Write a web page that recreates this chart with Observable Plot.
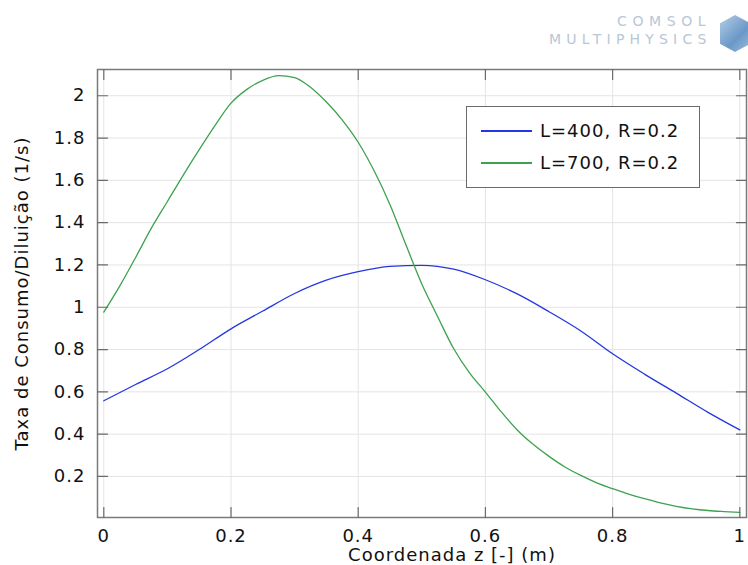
<!DOCTYPE html>
<html>
<head>
<meta charset="utf-8">
<script src="https://cdn.jsdelivr.net/npm/d3@7"></script>
<script src="https://cdn.jsdelivr.net/npm/@observablehq/plot@0.6"></script>
<style>
  body { margin: 0; background: #fff; }
  #wrap { position: relative; width: 748px; height: 565px; overflow: hidden; font-family: "DejaVu Sans", sans-serif; background: #fff; }
  #wrap svg text { letter-spacing: 1px; }
  .legend { position: absolute; left: 466px; top: 106px; width: 234px; height: 82px; box-sizing: border-box; border: 1.5px solid #6a6a6a; background: #fff; }
  .legend .sw { position: absolute; left: 14px; width: 51px; height: 2px; }
  .legend .lb { position: absolute; left: 73px; font-size: 18px; letter-spacing: 1px; color: #111; line-height: 20px; }
  .logo1 { position: absolute; left: 617px; top: 13px; font-size: 14px; letter-spacing: 5.6px; color: #b7c7d6; }
  .logo2 { position: absolute; left: 549px; top: 31px; font-size: 14px; letter-spacing: 5.2px; color: #b7c7d6; }
  .cube { position: absolute; left: 720px; top: 15px; width: 30px; height: 37px; background: linear-gradient(135deg, #a9c6e0, #4f86bd 60%, #8cb2d6); clip-path: polygon(50% 0, 100% 22%, 100% 78%, 50% 100%, 0 78%, 0 22%); opacity: 0.85; }
</style>
</head>
<body>
<div id="wrap"></div>
<script>
// ---- data ----
const zL400 = [0, 0.05, 0.1, 0.15, 0.2, 0.25, 0.3, 0.35, 0.4, 0.45, 0.5, 0.55, 0.6, 0.65, 0.7, 0.75, 0.8, 0.85, 0.9, 0.95, 1.0];
const rateL400 = [0.558, 0.635, 0.709, 0.800, 0.898, 0.982, 1.065, 1.128, 1.168, 1.193, 1.198, 1.180, 1.130, 1.063, 0.979, 0.888, 0.780, 0.684, 0.594, 0.503, 0.420];

const zL700 = [0, 0.025, 0.05, 0.075, 0.1, 0.125, 0.15, 0.175, 0.2, 0.225, 0.25, 0.275, 0.3, 0.325, 0.35, 0.375, 0.4, 0.425, 0.45, 0.475, 0.5, 0.525, 0.55, 0.575, 0.6, 0.625, 0.65, 0.675, 0.7, 0.725, 0.75, 0.775, 0.8, 0.825, 0.85, 0.875, 0.9, 0.925, 0.95, 0.975, 1.0];
const rateL700 = [0.977, 1.100, 1.235, 1.375, 1.500, 1.625, 1.745, 1.860, 1.965, 2.030, 2.073, 2.095, 2.086, 2.040, 1.970, 1.885, 1.780, 1.645, 1.485, 1.295, 1.110, 0.955, 0.805, 0.690, 0.599, 0.505, 0.420, 0.352, 0.295, 0.245, 0.205, 0.170, 0.142, 0.117, 0.095, 0.075, 0.059, 0.047, 0.039, 0.034, 0.030];

const seriesNames = ["L=400, R=0.2", "L=700, R=0.2"];
const xTicks = [0, 0.2, 0.4, 0.6, 0.8, 1];
const xTickLabels = ["0", "0.2", "0.4", "0.6", "0.8", "1"];
const yTicks = [0.2, 0.4, 0.6, 0.8, 1, 1.2, 1.4, 1.6, 1.8, 2];
const yTickLabels = ["0.2", "0.4", "0.6", "0.8", "1", "1.2", "1.4", "1.6", "1.8", "2"];
const xLabel = "Coordenada z [-] (m)";
const yLabel = "Taxa de Consumo/Diluição (1/s)";
const logoTop = "COMSOL";
const logoBottom = "MULTIPHYSICS";

// ---- build ----
const colors = ["#2437e0", "#3da24f"];
const rows = [
  ...zL400.map((z, i) => ({z, v: rateL400[i], s: seriesNames[0]})),
  ...zL700.map((z, i) => ({z, v: rateL700[i], s: seriesNames[1]}))
];
const tickShape = {draw(ctx, l) { ctx.moveTo(0, 0); ctx.lineTo(0, -l); }};
const tickStyle = {length: 10, anchor: "start", shape: tickShape, stroke: "#6a6a6a", strokeWidth: 1.2};

const chart = Plot.plot({
  width: 748, height: 565,
  marginLeft: 97, marginRight: 2, marginTop: 69, marginBottom: 48,
  style: {fontFamily: "DejaVu Sans, sans-serif", fontSize: "18px", background: "transparent", color: "#111"},
  x: {domain: [-0.0099, 1.0105]},
  y: {domain: [0.006, 2.124]},
  color: {domain: seriesNames, range: colors},
  marks: [
    Plot.gridX(xTicks, {stroke: "#e4e4e4", strokeOpacity: 1, strokeWidth: 1}),
    Plot.gridY(yTicks, {stroke: "#e4e4e4", strokeOpacity: 1, strokeWidth: 1}),
    Plot.line(rows, {x: "z", y: "v", z: "s", stroke: "s", strokeWidth: 1.3, curve: "monotone-x"}),
    Plot.frame({stroke: "#7a7a7a", strokeWidth: 1.5}),
    Plot.vector(xTicks, {x: d => d, frameAnchor: "bottom", rotate: 0, ...tickStyle}),
    Plot.vector(xTicks, {x: d => d, frameAnchor: "top", rotate: 180, ...tickStyle}),
    Plot.vector(yTicks, {y: d => d, frameAnchor: "left", rotate: 90, ...tickStyle}),
    Plot.vector(yTicks, {y: d => d, frameAnchor: "right", rotate: -90, ...tickStyle}),
    Plot.axisX({ticks: xTicks, tickSize: 0, tickPadding: 12, fontSize: 18, label: null,
      tickFormat: d => xTickLabels[xTicks.indexOf(d)]}),
    Plot.axisY({ticks: yTicks, tickSize: 0, tickPadding: 12, fontSize: 18, label: null,
      tickFormat: d => yTickLabels[yTicks.indexOf(d)]}),
    Plot.text([xLabel], {text: d => d, frameAnchor: "bottom", textAnchor: "middle", lineAnchor: "middle", dx: 30, dy: 38, fontSize: 18, fill: "#111"}),
    Plot.text([yLabel], {text: d => d, frameAnchor: "left", textAnchor: "middle", lineAnchor: "middle", rotate: -90, dx: -75, fontSize: 18, fill: "#111"})
  ]
});

const wrap = document.getElementById("wrap");
wrap.appendChild(chart);

// legend
const legend = document.createElement("div");
legend.className = "legend";
seriesNames.forEach((name, i) => {
  const sw = document.createElement("div");
  sw.className = "sw";
  sw.style.top = (i === 0 ? 23 : 55) + "px";
  sw.style.background = colors[i];
  const lb = document.createElement("div");
  lb.className = "lb";
  lb.style.top = (i === 0 ? 14 : 46) + "px";
  lb.textContent = name;
  legend.appendChild(sw);
  legend.appendChild(lb);
});
wrap.appendChild(legend);

// logo
const l1 = document.createElement("div"); l1.className = "logo1"; l1.textContent = logoTop; wrap.appendChild(l1);
const l2 = document.createElement("div"); l2.className = "logo2"; l2.textContent = logoBottom; wrap.appendChild(l2);
const cube = document.createElement("div"); cube.className = "cube"; wrap.appendChild(cube);
</script>
</body>
</html>
